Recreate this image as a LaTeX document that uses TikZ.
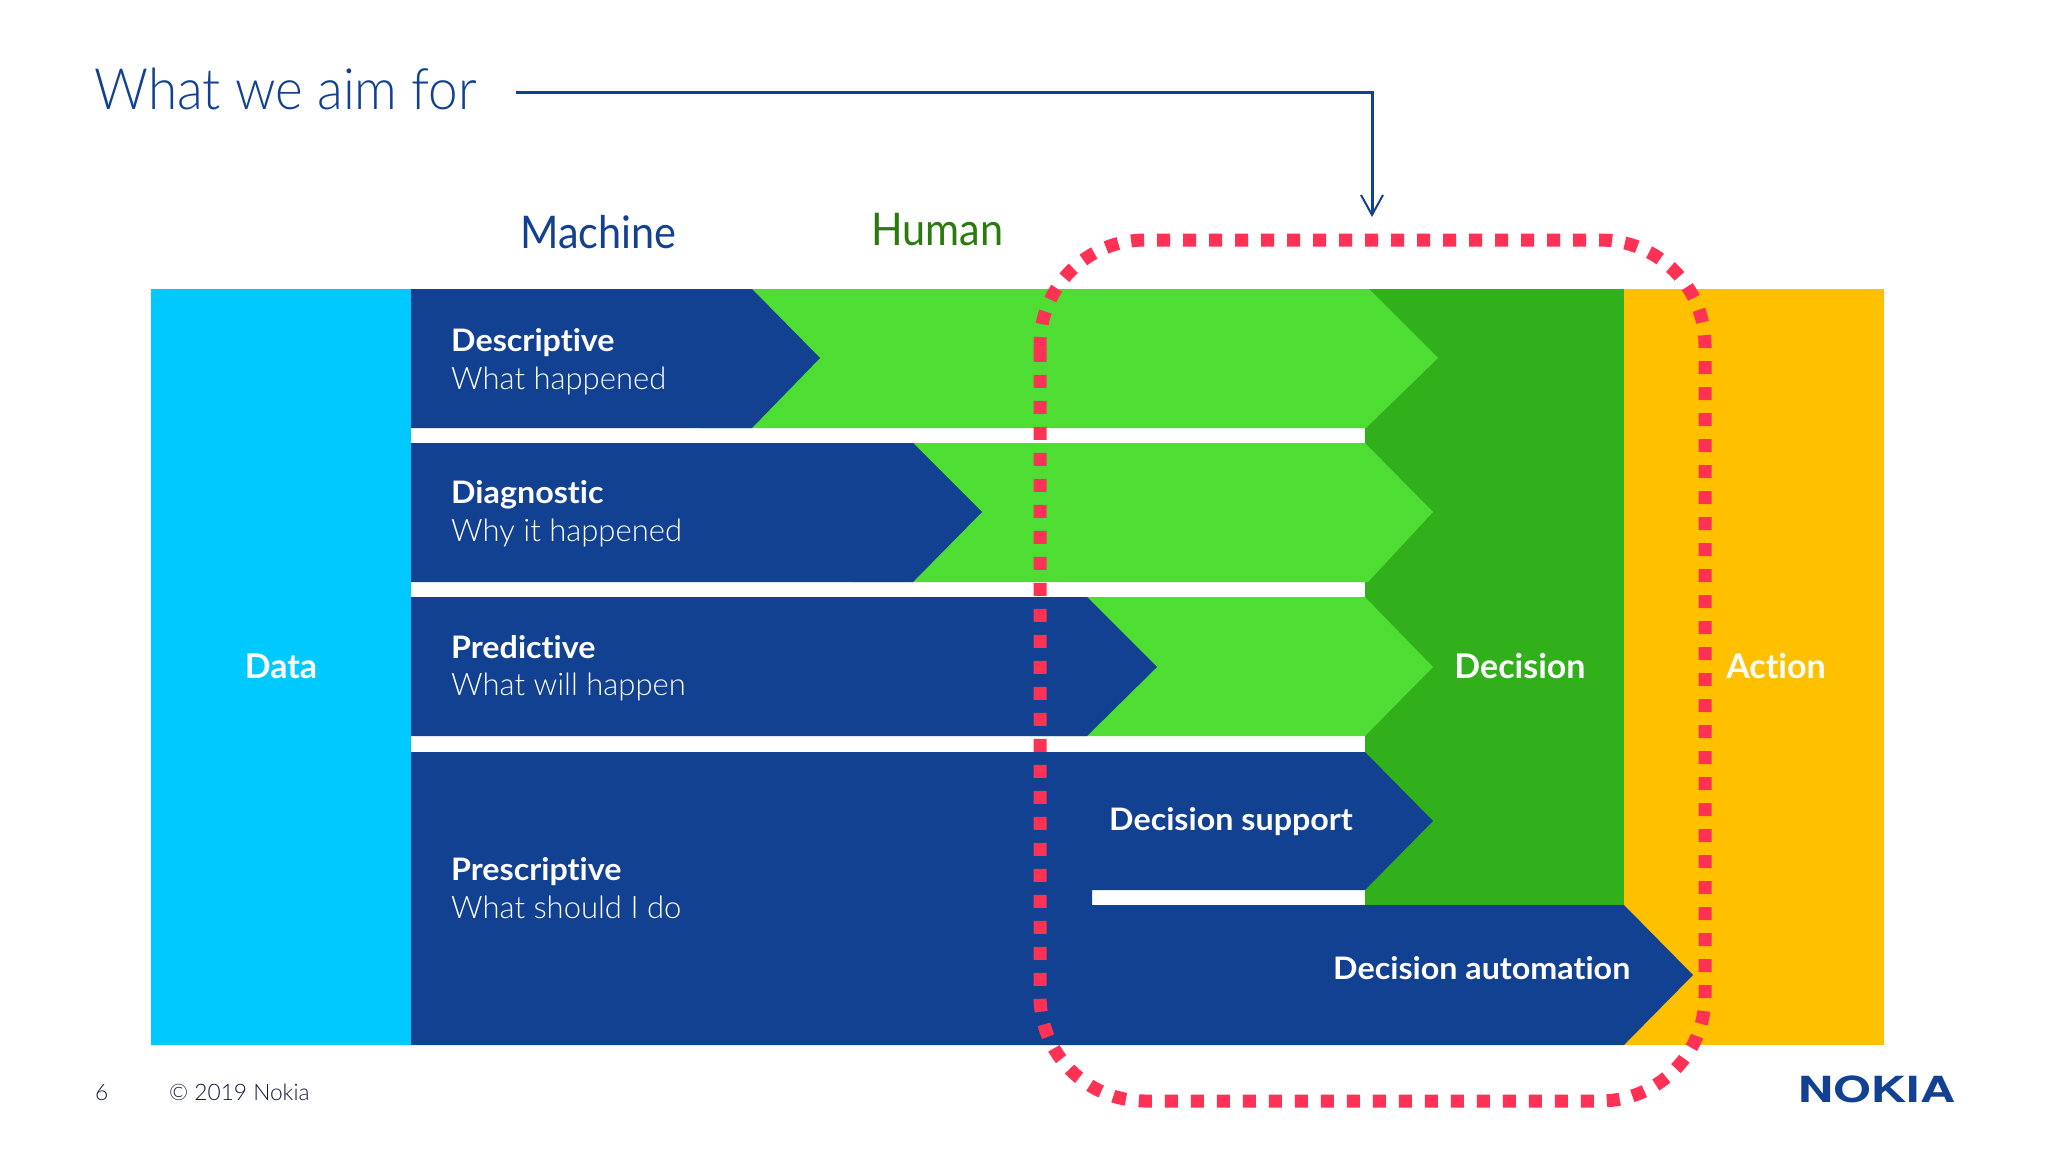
\documentclass[tikz,border=0pt]{standalone}
\usepackage{fontspec}
\setmainfont{Lato Light}[BoldFont=Lato Bold,Ligatures=NoCommon]
\newfontfamily\titlefont{Lato Light}[FakeStretch=0.93,Ligatures=NoCommon]
\newfontfamily\actorfont{Lato}[FakeStretch=0.92,Ligatures=NoCommon]
\newfontfamily\headfont{Lato Bold}[FakeStretch=1.04,Ligatures=NoCommon]
\newfontfamily\logofont{TeX Gyre Heros Bold}[FakeStretch=1.35]
\definecolor{skyblue}{HTML}{00C9FF}
\definecolor{nokiablue}{HTML}{124191}
\definecolor{lightgreen}{HTML}{4EDE33}
\definecolor{darkgreen}{HTML}{31B01C}
\definecolor{humangreen}{HTML}{2A7A0E}
\definecolor{amber}{HTML}{FFC000}
\definecolor{ringred}{HTML}{FF3154}
\definecolor{footink}{HTML}{10183F}
\usetikzlibrary{arrows.meta}
\tikzset{
  title/.style={anchor=base west,text=nokiablue,font=\titlefont\fontsize{57}{60}\selectfont},
  actor/.style={anchor=base west,font=\actorfont\fontsize{45}{50}\selectfont},
  head/.style={anchor=base west,text=white,font=\headfont\fontsize{31}{34}\selectfont},
  sub/.style={anchor=base west,text=white,font=\fontsize{31}{34}\selectfont},
  big/.style={anchor=base,text=white,font=\bfseries\fontsize{34}{38}\selectfont},
  foot/.style={anchor=base west,text=footink,font=\fontsize{22.7}{26}\selectfont},
  leader/.style={nokiablue,line width=3pt,-{Straight Barb[length=20pt,width=22pt,line width=2pt]}},
  ring/.style={ringred,line width=13pt,dash pattern=on 13pt off 13pt,rounded corners=105pt}
}
\begin{document}
\begin{tikzpicture}[x=1pt,y=-1pt]
\tikzstyle{every node}+=[inner sep=0pt]
\useasboundingbox (0,0) rectangle (2048,1152);
\fill [white] (0,0) rectangle (2048,1152);
\fill [skyblue] (151,289) rectangle (411,1045);
\fill [amber] (1624,289) rectangle (1884,1045);
\fill [darkgreen] (1365,289) rectangle (1624,905);
\fill [lightgreen] (700,289) -- (1369,289) -- (1438,358) -- (1366,428) -- (700,428) -- cycle;
\fill [lightgreen] (850,443) -- (1365,443) -- (1433,512) -- (1368,582) -- (850,582) -- cycle;
\fill [lightgreen] (1030,597) -- (1365,597) -- (1433,667) -- (1365,736) -- (1030,736) -- cycle;
\fill [nokiablue] (411,289) -- (752,289) -- (820,358) -- (752,428) -- (411,428) -- cycle;
\fill [nokiablue] (411,443) -- (913,443) -- (982,512) -- (913,582) -- (411,582) -- cycle;
\fill [nokiablue] (411,597) -- (1087,597) -- (1157,667) -- (1087,736) -- (411,736) -- cycle;
\fill [nokiablue] (411,752) -- (1365,752) -- (1433,821) -- (1365,890) -- (1092,890) -- (1092,905) -- (1624,905) -- (1693,975) -- (1624,1045) -- (411,1045) -- cycle;
\draw [ring] (1040,350) -- (1040,240) -- (1705,240) -- (1705,1101) -- (1040,1101) -- (1040,350);
\coordinate (leaderstart) at (516,92);
\coordinate (leaderend) at (1372,217);
\draw [leader] (leaderstart) -| (leaderend);
\node [title] (aim) at (94,109) {What we aim for};
\node [actor,text=nokiablue] (machine) at (520,248) {Machine};
\node [actor,text=humangreen] (human) at (871,245) {Human};
\node [big] (data) at (281,678) {Data};
\node [big] (decision) at (1520,678) {Decision};
\node [big] (action) at (1776,678) {Action};
\node [head] (descriptive) at (451,351) {Descriptive};
\node [sub] (descriptivesub) at (451,389) {What happened};
\node [head] (diagnostic) at (451,503) {Diagnostic};
\node [sub] (diagnosticsub) at (451,541) {Why it happened};
\node [head] (predictive) at (451,658) {Predictive};
\node [sub] (predictivesub) at (451,695) {What will happen};
\node [head] (prescriptive) at (451,880) {Prescriptive};
\node [sub] (prescriptivesub) at (451,918) {What should I do};
\node [head] (support) at (1109,830) {Decision support};
\node [head] (automation) at (1333,979) {Decision automation};
\node [foot] (page) at (95,1100) {6};
\node [foot] (copyright) at (169,1100) {© 2019 Nokia};
\node [anchor=base west,text=nokiablue,font=\logofont\fontsize{36}{40}\selectfont] (logo) at (1798,1102) {NOKIA};
\end{tikzpicture}
\end{document}
